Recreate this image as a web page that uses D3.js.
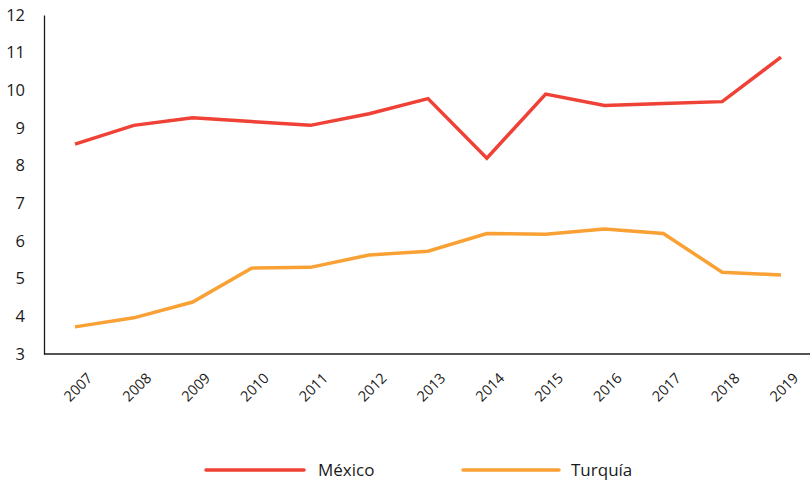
<!DOCTYPE html>
<html><head><meta charset="utf-8">
<script src="https://cdn.jsdelivr.net/npm/d3@7"></script>
<style>body{margin:0;background:#fff;} text{font-family:"Open Sans","Noto Sans",sans-serif;fill:#1a1a1a;}</style>
</head><body>
<svg id="c" width="812" height="481"></svg>
<script>
const years = [2007,2008,2009,2010,2011,2012,2013,2014,2015,2016,2017,2018,2019];
const mexico = [8.57,9.07,9.27,9.17,9.07,9.38,9.78,8.2,9.9,9.6,9.65,9.7,10.88];
const turquia = [3.72,3.96,4.38,5.28,5.3,5.63,5.73,6.2,6.18,6.32,6.2,5.17,5.1];
const yTicks = [3,4,5,6,7,8,9,10,11,12];
const seriesNames = ["México","Turquía"];
const colors = ["#EF4136","#F9A135"];

const svg = d3.select("#c");
const x = d3.scalePoint().domain(years).range([75,781]);
const y = d3.scaleLinear().domain([3,12]).range([354,15]);

// y axis
const ya = svg.append("g").attr("transform","translate(44,0)")
  .call(d3.axisLeft(y).tickValues(yTicks).tickSize(0).tickPadding(19));
ya.select(".domain").attr("stroke","#1a1a1a").attr("stroke-width",1.3);
ya.selectAll("text").attr("font-size",16.5).style("font-family","'Open Sans','Noto Sans',sans-serif").attr("fill","#1a1a1a");

// x axis
const xa = svg.append("g").attr("transform","translate(0,354)");
xa.append("line").attr("x1",44).attr("x2",810).attr("y1",0).attr("y2",0)
  .attr("stroke","#1a1a1a").attr("stroke-width",1.3);
xa.selectAll("text").data(years).join("text")
  .attr("transform",d=>`translate(${x(d)+4},34) rotate(-45)`)
  .attr("text-anchor","middle").attr("dominant-baseline","middle")
  .attr("font-size",14.5).text(d=>d);

const line = d3.line().x((d,i)=>x(years[i])).y(d=>y(d));
[mexico,turquia].forEach((s,k)=>{
  svg.append("path").datum(s).attr("d",line).attr("fill","none")
    .attr("stroke",colors[k]).attr("stroke-width",3.5).attr("stroke-linejoin","miter");
});

// legend
const lg = [{x1:206,x2:304,tx:318},{x1:463,x2:559,tx:571}];
seriesNames.forEach((n,k)=>{
  svg.append("line").attr("x1",lg[k].x1).attr("x2",lg[k].x2).attr("y1",470).attr("y2",470)
    .attr("stroke",colors[k]).attr("stroke-width",3.5).attr("stroke-linecap","round");
  svg.append("text").attr("x",lg[k].tx).attr("y",476).attr("font-size",17).text(n);
});
</script>
</body></html>
